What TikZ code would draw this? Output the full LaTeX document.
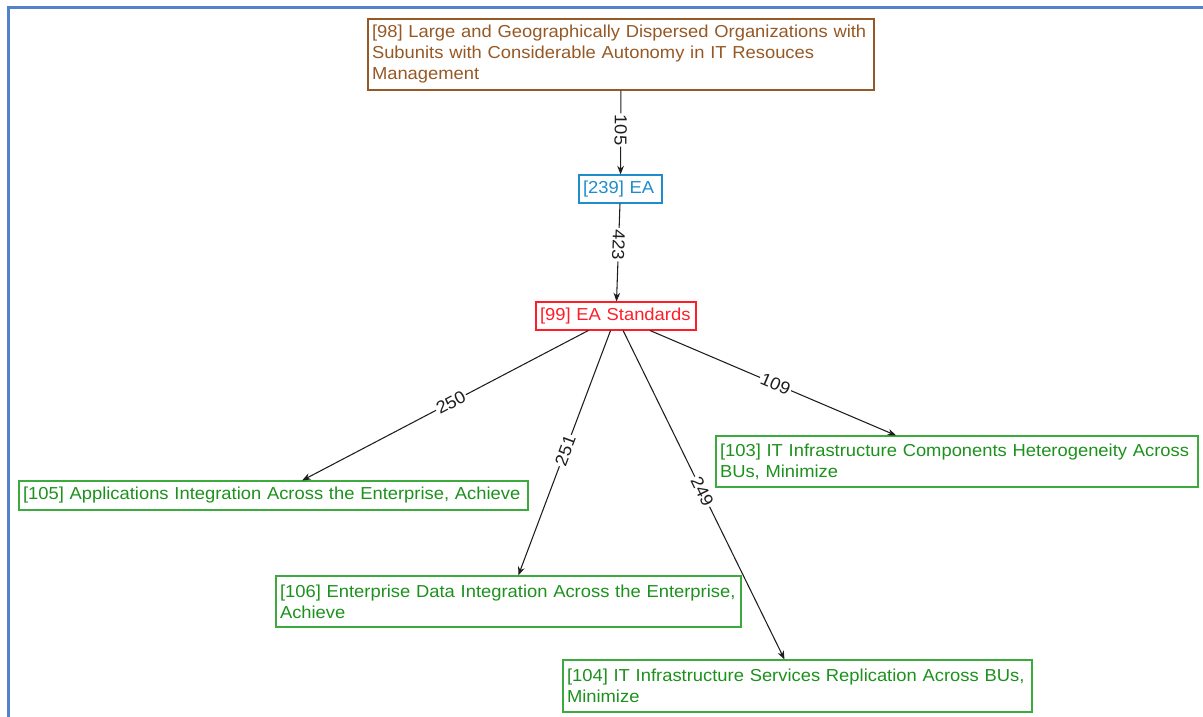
\documentclass[tikz,border=0pt]{standalone}
\usepackage{fontspec}
\setmainfont{Liberation Sans}[FakeStretch=1.06]
\usetikzlibrary{arrows.meta}
\definecolor{framecol}{RGB}{84,130,200}
\definecolor{browncol}{RGB}{150,88,36}
\definecolor{bluecol}{RGB}{30,140,205}
\definecolor{redcol}{RGB}{255,30,40}
\definecolor{greentext}{RGB}{28,145,28}
\definecolor{greenline}{RGB}{60,170,60}
\definecolor{edgecol}{RGB}{30,30,30}
\begin{document}
\begin{tikzpicture}[x=0.75pt,y=-0.75pt,
  box/.style={draw, rectangle, line width=0.8pt, inner xsep=3pt, inner ysep=2pt,
    align=left, font=\fontsize{13}{15.75}\selectfont},
  topic/.style={box, draw=browncol, text=browncol},
  method/.style={box, draw=bluecol, text=bluecol},
  standard/.style={box, draw=redcol, text=redcol},
  goal/.style={box, draw=greenline, text=greentext},
  link/.style={draw=edgecol, line width=0.8pt, -{Stealth[length=6.5pt,width=5pt]}},
  weight/.style={fill=white, inner sep=1pt, font=\fontsize{13}{14}\selectfont, text=edgecol, sloped}
]
\useasboundingbox (0,0) rectangle (1203,717);
% window frame
\draw[framecol, line width=2.25pt] (8,717) -- (8,8) -- (1203,8);

% nodes
\node[topic, text width=373.5pt, minimum height=53.25pt] (n98) at (621,54.5)
  {[98] Large and Geographically Dispersed Organizations with\\Subunits with Considerable Autonomy in IT Resouces\\Management};
\node[method, text width=56.25pt, minimum height=21pt] (n239) at (620.5,189) {[239] EA};
\node[standard, text width=114pt, minimum height=21pt] (n99) at (616,316) {[99] EA Standards};
\node[goal, text width=375.75pt, minimum height=21.75pt] (n105) at (273.5,495.5)
  {[105] Applications Integration Across the Enterprise, Achieve};
\node[goal, text width=355.5pt, minimum height=38.25pt] (n103) at (957,461.5)
  {[103] IT Infrastructure Components Heterogeneity Across\\BUs, Minimize};
\node[goal, text width=342.75pt, minimum height=38.25pt] (n106) at (508.5,601.5)
  {[106] Enterprise Data Integration Across the Enterprise,\\Achieve};
\node[goal, text width=345.75pt, minimum height=39pt] (n104) at (797.5,686)
  {[104] IT Infrastructure Services Replication Across BUs,\\Minimize};

% connectors
\draw[link] (n98) -- node[weight, allow upside down, pos=0.47] {105} (n239);
\draw[link] (n239) -- node[weight, allow upside down, pos=0.42] {423} (n99);
\draw[link] (n99) -- node[weight, pos=0.48] {250} (n105);
\draw[link] (n99) -- node[weight, pos=0.49] {251} (n106);
\draw[link] (n99) -- node[weight, pos=0.49] {249} (n104);
\draw[link] (n99) -- node[weight, pos=0.51] {109} (n103);
\end{tikzpicture}
\end{document}
